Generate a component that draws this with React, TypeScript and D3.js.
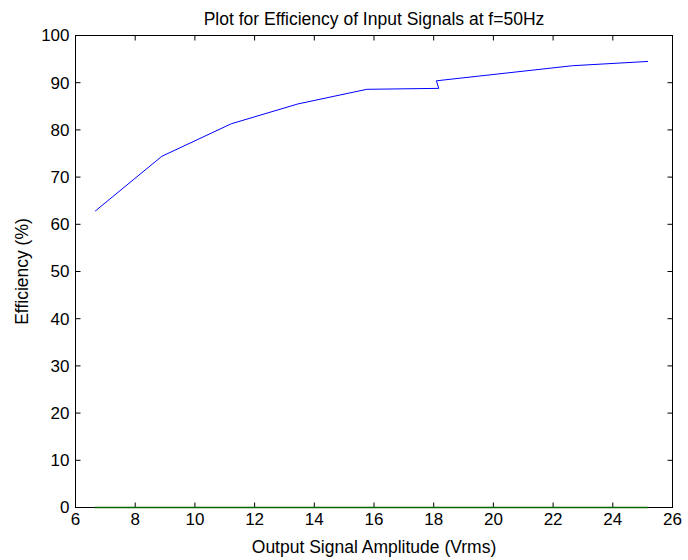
import React from "react";
import * as d3 from "d3";

const amplitude = [6.66, 8.89, 11.22, 13.45, 15.76, 18.17, 18.09, 22.65, 25.18];
const efficiency = [62.8, 74.4, 81.3, 85.5, 88.6, 88.8, 90.4, 93.6, 94.5];
const zeroLine = [0, 0, 0, 0, 0, 0, 0, 0, 0];
const xTicks = [6, 8, 10, 12, 14, 16, 18, 20, 22, 24, 26];
const yTicks = [0, 10, 20, 30, 40, 50, 60, 70, 80, 90, 100];

const W = 688, H = 560;
const L = 75.5, R = 672.5, T = 35.5, B = 507.5;
const FONT = "'Liberation Sans', Arial, Helvetica, sans-serif";

export default function App() {
  const x = d3.scaleLinear().domain([6, 26]).range([L, R]);
  const y = d3.scaleLinear().domain([0, 100]).range([B, T]);
  const line = d3.line<number>().x((_, i) => x(amplitude[i])).y((d) => y(d));
  const tk = 5;
  return (
    <svg width={W} height={H} style={{ position: "absolute", left: 0, top: 0, background: "#fff" }} fontFamily={FONT}>
      <rect x={0} y={0} width={W} height={H} fill="#fff" />
      {xTicks.map((t) => (
        <g key={"x" + t}>
          <line x1={x(t)} x2={x(t)} y1={B} y2={B - tk} stroke="#000" />
          <line x1={x(t)} x2={x(t)} y1={T} y2={T + tk} stroke="#000" />
          <text x={x(t)} y={525} fontSize={17} textAnchor="middle" fill="#000">{t}</text>
        </g>
      ))}
      {yTicks.map((t) => (
        <g key={"y" + t}>
          <line x1={L} x2={L + tk} y1={y(t)} y2={y(t)} stroke="#000" />
          <line x1={R} x2={R - tk} y1={y(t)} y2={y(t)} stroke="#000" />
          <text x={L - 6} y={y(t)} dy="0.35em" fontSize={17} textAnchor="end" fill="#000">{t}</text>
        </g>
      ))}
      <rect x={L} y={T} width={R - L} height={B - T} fill="none" stroke="#000" />
      <path d={line(efficiency) || ""} fill="none" stroke="#0000ff" strokeWidth={1} />
      <path d={line(zeroLine) || ""} fill="none" stroke="#006400" strokeWidth={1.5} />
      <text x={(L + R) / 2} y={25} fontSize={17.5} textAnchor="middle" fill="#000">Plot for Efficiency of Input Signals at f=50Hz</text>
      <text x={(L + R) / 2} y={553} fontSize={17.5} textAnchor="middle" fill="#000">Output Signal Amplitude (Vrms)</text>
      <text transform={`translate(28, ${(T + B) / 2}) rotate(-90)`} fontSize={17.5} textAnchor="middle" fill="#000">Efficiency (%)</text>
    </svg>
  );
}
